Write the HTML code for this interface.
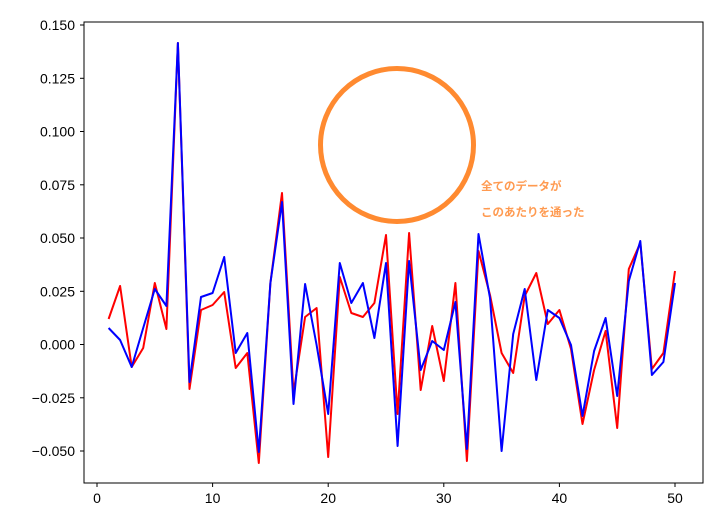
<!DOCTYPE html>
<html><head><meta charset="utf-8"><style>body{margin:0;background:#fff}</style></head><body>
<svg width="717" height="526" xmlns="http://www.w3.org/2000/svg" font-family="Liberation Sans, DejaVu Sans, sans-serif">
<rect width="717" height="526" fill="#fff"/>
<g fill="none" stroke-width="2" stroke-linejoin="round">
<polyline stroke="#ff0000" points="108.6,319 120.1,286 131.7,367 143.2,348 154.8,283 166.4,329 177.9,43 189.5,389 201,310 212.6,305 224.2,292 235.7,368 247.3,353 258.8,463 270.4,283 282,193 293.5,393 305.1,317 316.6,308 328.2,457 339.8,277 351.3,313 362.9,317 374.4,303 386,235 397.6,414 409.1,233 420.7,390 432.2,326 443.8,381 455.4,283 466.9,461 478.5,251 490,295 501.6,353 513.2,373 524.7,296 536.3,273 547.8,324 559.4,310 571,349 582.5,424 594.1,370 605.6,331 617.2,428 628.8,269 640.3,243 651.9,369 663.4,353 675,271"/>
<polyline stroke="#0000ff" points="108.6,328 120.1,340 131.7,367 143.2,328 154.8,289 166.4,306 177.9,43 189.5,382 201,297 212.6,293 224.2,257 235.7,353 247.3,333 258.8,452 270.4,283 282,202 293.5,404 305.1,284 316.6,345 328.2,414 339.8,263 351.3,303 362.9,283 374.4,338 386,263 397.6,446 409.1,261 420.7,370 432.2,341 443.8,350 455.4,302 466.9,449 478.5,234 490,298 501.6,451 513.2,334 524.7,289 536.3,380 547.8,310 559.4,318 571,345 582.5,416 594.1,351 605.6,318 617.2,396 628.8,281 640.3,241 651.9,375 663.4,362 675,283"/>
<circle cx="397" cy="145" r="76.5" stroke="#ff8a30" stroke-width="5"/>
</g>
<text x="481" y="190" font-size="11.5" font-weight="bold" fill="#ff9a50" font-family="Liberation Sans, Noto Sans CJK JP, sans-serif">全てのデータが</text>
<text x="481" y="216" font-size="11.5" font-weight="bold" fill="#ff9a50" font-family="Liberation Sans, Noto Sans CJK JP, sans-serif">このあたりを通った</text>
<rect x="84" y="22" width="619" height="461" fill="none" stroke="#000" stroke-width="1"/>
<g stroke="#000" stroke-width="1">
<line x1="97" y1="483" x2="97" y2="487"/><line x1="212.6" y1="483" x2="212.6" y2="487"/><line x1="328.2" y1="483" x2="328.2" y2="487"/><line x1="443.8" y1="483" x2="443.8" y2="487"/><line x1="559.4" y1="483" x2="559.4" y2="487"/><line x1="675" y1="483" x2="675" y2="487"/>
<line x1="80" y1="25" x2="84" y2="25"/><line x1="80" y1="78.3" x2="84" y2="78.3"/><line x1="80" y1="131.5" x2="84" y2="131.5"/><line x1="80" y1="184.8" x2="84" y2="184.8"/><line x1="80" y1="238" x2="84" y2="238"/><line x1="80" y1="291.3" x2="84" y2="291.3"/><line x1="80" y1="344.5" x2="84" y2="344.5"/><line x1="80" y1="397.8" x2="84" y2="397.8"/><line x1="80" y1="451" x2="84" y2="451"/>
</g>
<g font-size="14" fill="#000" text-anchor="middle">
<text x="97" y="503">0</text><text x="212.6" y="503">10</text><text x="328.2" y="503">20</text><text x="443.8" y="503">30</text><text x="559.4" y="503">40</text><text x="675" y="503">50</text>
</g>
<g font-size="14" fill="#000" text-anchor="end">
<text x="75" y="30">0.150</text><text x="75" y="83.3">0.125</text><text x="75" y="136.5">0.100</text><text x="75" y="189.8">0.075</text><text x="75" y="243">0.050</text><text x="75" y="296.3">0.025</text><text x="75" y="349.5">0.000</text><text x="75" y="402.8">−0.025</text><text x="75" y="456">−0.050</text>
</g>
</svg>
</body></html>
